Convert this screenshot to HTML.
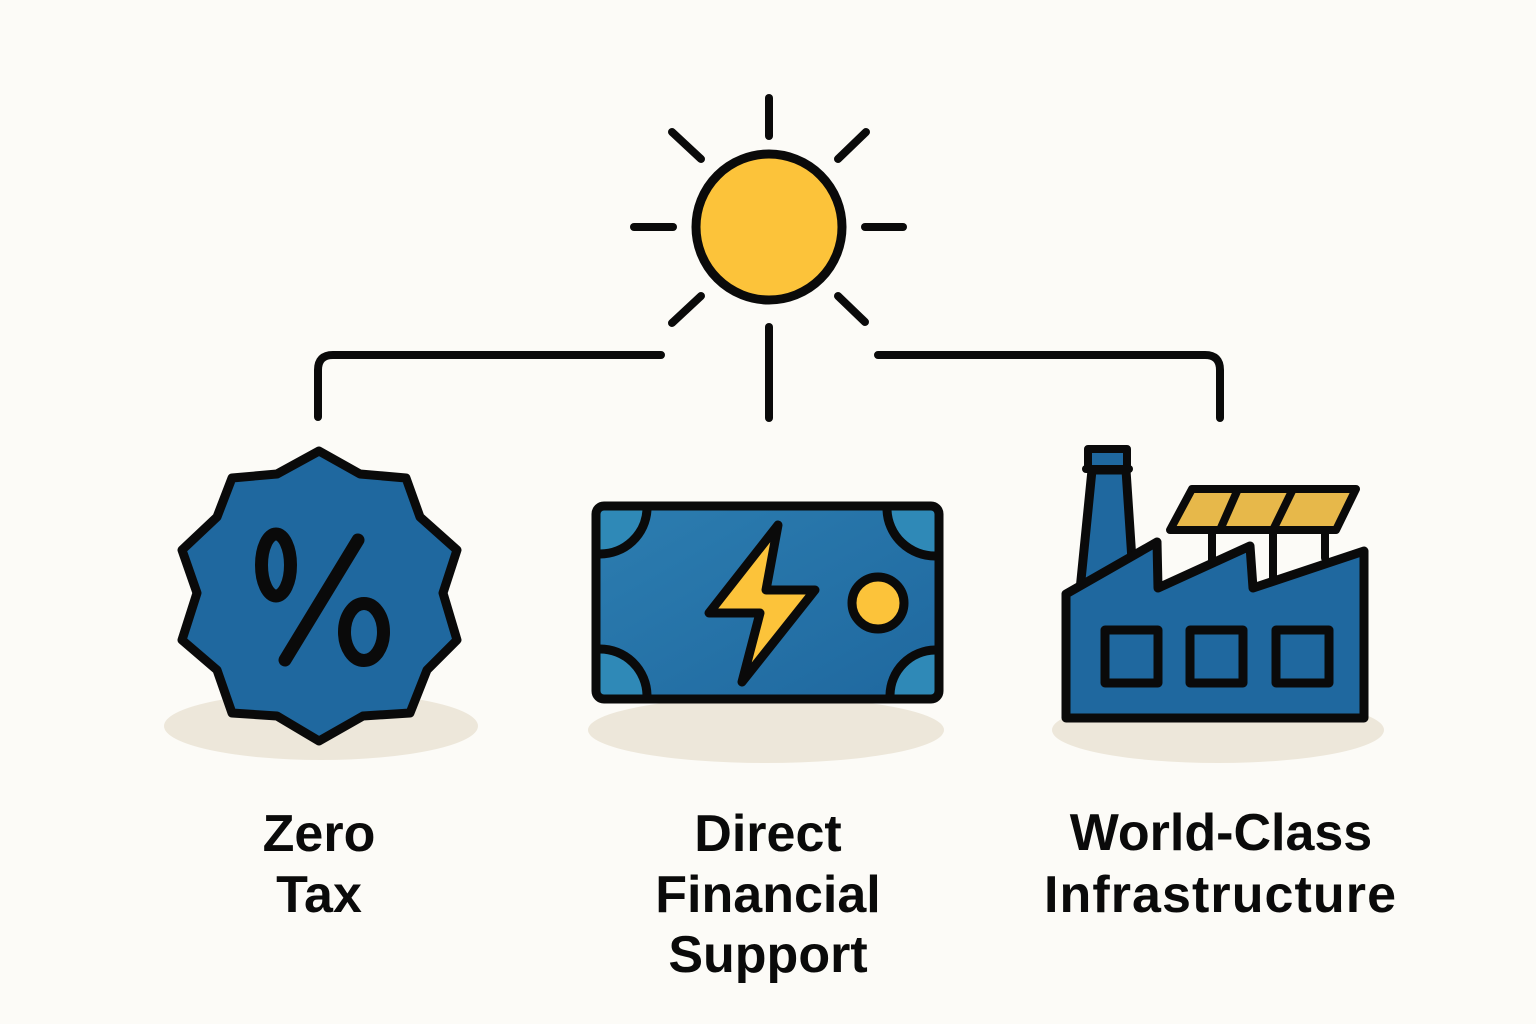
<!DOCTYPE html>
<html>
<head>
<meta charset="utf-8">
<style>
html,body{margin:0;padding:0;background:#fcfbf7;}
svg{display:block;}
text{font-family:"Liberation Sans",Arial,sans-serif;font-weight:bold;fill:#0a0a0a;}
</style>
</head>
<body>
<svg width="1536" height="1024" viewBox="0 0 1536 1024" xmlns="http://www.w3.org/2000/svg">
<defs>
<linearGradient id="cardg" x1="0" y1="0" x2="1" y2="1">
<stop offset="0" stop-color="#2c7db0"/>
<stop offset="1" stop-color="#1f689f"/>
</linearGradient>
</defs>
<rect width="1536" height="1024" fill="#fcfbf7"/>

<!-- shadows -->
<ellipse cx="321" cy="726" rx="157" ry="34" fill="#ede7da"/>
<ellipse cx="766" cy="730" rx="178" ry="33" fill="#ede7da"/>
<ellipse cx="1218" cy="730" rx="166" ry="33" fill="#ede7da"/>

<!-- sun -->
<g stroke="#0a0a0a" stroke-width="8" stroke-linecap="round" fill="none">
<line x1="769" y1="98" x2="769" y2="136"/>
<line x1="634" y1="227" x2="673" y2="227"/>
<line x1="865" y1="227" x2="903" y2="227"/>
<line x1="672" y1="132" x2="701" y2="159"/>
<line x1="866" y1="132" x2="838" y2="159"/>
<line x1="701" y1="296" x2="672" y2="323"/>
<line x1="838" y1="296" x2="865" y2="322"/>
<line x1="769" y1="327" x2="769" y2="418"/>
<path d="M318 417 V370 Q318 355 333 355 H661"/>
<path d="M1220 418 V370 Q1220 355 1205 355 H878"/>
</g>
<circle cx="769" cy="227" r="73" fill="#fcc33a" stroke="#0a0a0a" stroke-width="9"/>

<!-- badge -->
<polygon points="319,451 360,474 406,478 420,517 457,550 443,593 457,640 427,670 410,713 363,716 319,741 277,716 232,713 217,670 182,640 197,593 182,550 217,517 232,478 277,474" fill="#1f689f" stroke="#0a0a0a" stroke-width="9" stroke-linejoin="round"/>
<g fill="none" stroke="#0a0a0a" stroke-width="13" stroke-linecap="round">
<ellipse cx="276" cy="565" rx="14.5" ry="31"/>
<ellipse cx="364" cy="632" rx="19.5" ry="28.5"/>
<line x1="358" y1="540" x2="285" y2="660"/>
</g>

<!-- money card -->
<rect x="596" y="506" width="343" height="193" rx="8" fill="url(#cardg)"/>
<g fill="#2f89b7">
<path d="M600 510 H647 A47 47 0 0 1 600 554 Z"/>
<path d="M935 510 H887 A48 48 0 0 0 935 556 Z"/>
<path d="M600 695 H647 A47 47 0 0 0 600 649 Z"/>
<path d="M935 695 H890 A46 46 0 0 1 935 650 Z"/>
</g>
<g fill="none" stroke="#0a0a0a" stroke-width="9">
<path d="M600 554 A47 47 0 0 0 647 510"/>
<path d="M887 510 A48 48 0 0 0 935 556"/>
<path d="M600 649 A47 47 0 0 1 647 695"/>
<path d="M890 695 A46 46 0 0 1 935 650"/>
</g>
<rect x="596" y="506" width="343" height="193" rx="8" fill="none" stroke="#0a0a0a" stroke-width="9"/>
<polygon points="778,525 709,613 760,613 742,682 815,590 766,590" fill="#fcc33a" stroke="#0a0a0a" stroke-width="9" stroke-linejoin="round"/>
<circle cx="878" cy="603" r="26" fill="#fcc33a" stroke="#0a0a0a" stroke-width="9"/>

<!-- factory -->
<g stroke="#0a0a0a" stroke-width="8" stroke-linecap="round">
<line x1="1212" y1="532" x2="1212" y2="560"/>
<line x1="1273" y1="532" x2="1273" y2="578"/>
<line x1="1325" y1="532" x2="1325" y2="558"/>
</g>
<polygon points="1092,470 1126,470 1132,560 1080,590" fill="#1f689f" stroke="#0a0a0a" stroke-width="9" stroke-linejoin="round"/>
<rect x="1088" y="449" width="39" height="20" fill="#1f689f" stroke="#0a0a0a" stroke-width="8" stroke-linejoin="round"/>
<rect x="1082" y="465" width="51" height="8" rx="4" fill="#0a0a0a"/>
<polygon points="1066,718 1066,594 1157,542 1158,588 1250,546 1253,588 1364,551 1364,718" fill="#1f689f" stroke="#0a0a0a" stroke-width="9" stroke-linejoin="round"/>
<g fill="#1f689f" stroke="#0a0a0a" stroke-width="9" stroke-linejoin="round">
<rect x="1105" y="630" width="53" height="53"/>
<rect x="1190" y="630" width="53" height="53"/>
<rect x="1276" y="630" width="53" height="53"/>
</g>
<polygon points="1192,489 1356,489 1336,530 1170,530" fill="#e7b84a" stroke="#0a0a0a" stroke-width="8" stroke-linejoin="round"/>
<g stroke="#0a0a0a" stroke-width="8">
<line x1="1238" y1="489" x2="1220" y2="530"/>
<line x1="1293" y1="489" x2="1273" y2="530"/>
</g>

<!-- labels -->
<g font-size="52" text-anchor="middle">
<text x="319" y="851">Zero</text>
<text x="319" y="912">Tax</text>
<text x="768" y="851">Direct</text>
<text x="768" y="912">Financial</text>
<text x="768" y="972">Support</text>
<text x="1221" y="850">World-Class</text>
<text x="1220" y="912" textLength="352" lengthAdjust="spacing">Infrastructure</text>
</g>
</svg>
</body>
</html>
